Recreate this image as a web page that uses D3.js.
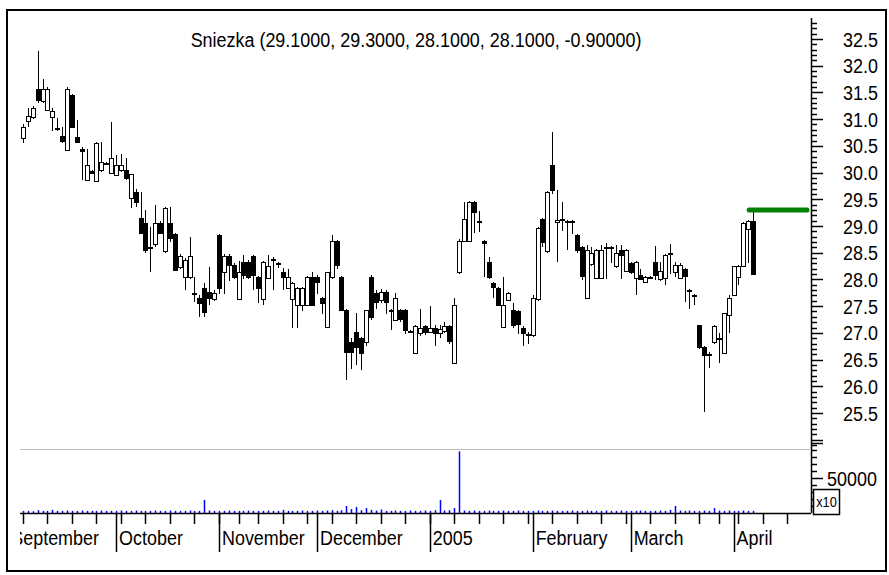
<!DOCTYPE html>
<html>
<head>
<meta charset="utf-8">
<script src="https://cdn.jsdelivr.net/npm/d3@7"></script>
<style>
  body { margin: 0; background: #fff; }
  text { font-family: "Liberation Sans", Arial, sans-serif; fill: #000; }
</style>
</head>
<body>
<div id="chart"></div>
<script>
// daily quotes, first session 6 Sept 2004, last 7 Apr 2005
const opens = [30.65,30.95,31.03,31.57,31.35,31.18,31.04,30.82,30.68,30.43,
  31.45,30.67,30.45,29.87,30.03,29.84,30.05,30.18,29.98,29.95,
  30.05,30.05,29.53,29.64,29.15,29.05,28.6,28.66,29.05,28.53,
  29.05,28.85,28.24,28.05,28.05,27.75,27.65,27.84,27.77,27.64,
  28.83,28.14,28.44,28.27,27.64,28.33,28.33,28.44,28.05,27.64,
  28.03,28.38,28.3,28.14,27.84,27.64,27.52,27.52,27.52,28.05,
  28.05,27.65,27.11,28.05,28.72,28.05,27.43,26.83,27.02,26.9,
  26.83,28.05,27.75,27.62,27.77,27.42,27.24,27.42,27.43,27.03,
  26.62,27.0,27.12,27.02,27.1,27.0,27.03,27.12,26.45,28.14,
  28.72,28.72,29.45,29.1,28.72,28.33,27.94,27.84,27.11,27.62,
  27.43,27.4,27.1,26.98,26.95,27.65,29.13,28.53,30.14,29.08,
  29.12,29.1,29.1,28.83,28.6,27.65,28.3,28.03,28.03,28.6,
  28.6,28.25,28.55,28.15,28.3,28.03,28.08,27.95,28.05,28.33,
  28.0,28.03,28.48,28.14,28.03,28.2,27.8,27.7,27.15,26.74,
  26.6,26.83,26.9,26.62,27.33,27.7,28.05,28.25,28.95,29.1];
const highs = [30.9,31.2,31.25,32.27,31.75,31.6,31.2,31.03,30.85,31.6,
  31.47,30.98,30.47,30.45,30.05,30.57,30.57,30.2,30.95,30.33,
  30.35,30.27,29.98,29.7,29.64,29.3,28.98,29.4,29.1,29.36,
  29.36,28.87,28.47,28.4,28.8,28.05,27.7,27.94,28.23,27.8,
  28.85,28.47,28.48,28.3,28.34,28.45,28.36,28.46,28.07,28.35,
  28.45,28.42,28.32,28.22,28.2,27.96,27.86,27.86,28.07,28.14,
  28.08,27.68,28.14,28.83,28.74,28.07,27.45,26.9,27.38,26.92,
  27.43,28.08,27.8,27.82,27.8,27.45,27.75,27.45,27.45,27.06,
  27.14,27.45,27.14,27.5,27.15,27.15,27.2,27.15,27.65,28.75,
  29.45,29.47,29.47,29.28,28.74,28.42,27.96,27.86,28.05,27.77,
  27.55,27.42,27.12,27.02,27.7,28.99,29.15,29.66,30.76,29.68,
  29.45,29.12,29.12,28.85,28.62,28.65,28.6,28.57,28.65,28.68,
  28.62,28.65,28.65,28.57,28.33,28.35,28.2,28.07,28.06,28.62,
  28.33,28.48,28.66,28.33,28.3,28.22,27.82,27.72,27.15,26.76,
  26.64,27.15,27.0,27.38,27.7,28.25,28.27,29.07,29.12,29.3];
const lows = [30.55,30.85,31.0,31.3,31.3,31.15,30.77,30.78,30.55,30.42,
  30.86,30.55,29.86,29.86,29.97,29.84,30.02,30.15,29.98,29.93,
  30.02,29.87,29.34,29.35,28.85,28.5,28.14,28.6,28.85,28.5,
  28.7,28.15,28.2,27.8,28.0,27.57,27.3,27.3,27.52,27.6,
  27.72,27.72,27.97,28.0,27.62,28.0,28.0,27.8,27.55,27.53,
  28.0,27.8,28.22,27.8,27.82,27.1,27.1,27.4,27.5,27.5,
  27.73,27.35,27.11,28.0,28.2,27.4,26.12,26.33,26.4,26.3,
  26.75,27.25,27.45,27.55,27.35,27.06,27.22,27.2,26.98,27.0,
  26.6,26.95,26.96,27.0,26.75,26.9,27.0,26.8,26.45,28.1,
  28.7,28.7,28.86,28.88,28.05,28.0,27.65,27.5,27.1,27.6,
  27.1,26.98,26.75,26.8,26.93,27.6,28.6,28.5,29.6,28.33,
  28.9,28.55,28.85,28.5,27.98,27.63,28.25,28.0,28.0,28.0,
  28.3,28.22,28.0,28.13,28.1,27.7,27.98,27.93,28.0,27.98,
  27.97,27.9,28.1,28.05,28.0,27.57,27.44,27.53,26.7,25.52,
  26.34,26.8,26.43,26.6,27.0,27.7,27.9,28.23,28.3,28.1];
const closes = [30.85,31.05,31.2,31.36,31.57,31.57,31.16,30.83,30.58,31.57,
  30.86,30.58,30.42,30.15,29.99,30.55,30.2,30.18,30.27,30.14,
  30.15,29.9,29.98,29.45,28.87,28.55,28.6,29.06,28.87,29.33,
  28.76,28.18,28.44,28.36,28.44,27.75,27.56,27.39,27.65,27.75,
  27.84,28.44,28.27,28.05,28.14,28.08,28.05,28.08,27.84,28.33,
  28.25,28.38,28.28,28.05,28.05,27.94,27.84,27.84,28.05,27.52,
  27.96,27.56,28.14,28.72,28.27,27.43,26.64,26.64,26.74,26.62,
  27.43,27.3,27.58,27.77,27.58,27.42,27.65,27.26,27.05,27.03,
  27.13,27.1,27.0,27.1,27.0,27.08,27.12,26.83,27.53,28.72,
  29.13,29.45,29.26,29.1,28.68,28.05,27.86,27.52,27.52,27.75,
  27.15,27.15,27.0,26.96,27.65,28.97,28.7,29.64,29.68,29.12,
  29.14,29.1,29.1,28.55,28.05,28.55,28.5,28.55,28.55,28.6,
  28.6,28.5,28.45,28.55,28.14,28.33,28.0,28.05,28.05,28.08,
  28.15,28.46,28.5,28.27,28.27,28.06,27.8,27.7,26.74,26.59,
  26.6,27.13,26.9,27.37,27.65,28.25,28.25,29.05,29.1,28.1];
const volumes = [3000,3000,2500,4000,3000,3000,4500,3000,3000,3500,
  3000,3000,3500,3000,3000,3000,3500,3000,3000,3000,
  3500,3000,3000,3500,3000,3000,3000,3500,3000,3000,
  3500,3000,3000,3000,3500,3000,3000,18500,3500,3000,
  3000,3000,3500,3000,3000,3000,3500,3000,3000,3000,
  3500,3000,3000,4500,3000,3000,3000,3500,3000,3000,
  3500,3000,3500,4000,3000,4000,10000,5500,8500,4000,
  7000,4500,3500,5000,3000,3000,3500,3000,3000,3500,
  3000,3000,3500,3000,4000,18500,3500,4000,7000,88000,
  3500,3000,3500,3000,3000,3500,3000,3000,3500,3000,
  3000,3500,3000,3000,3000,3500,3000,3000,3500,3000,
  3000,3000,3500,3000,3000,3500,3000,3000,3000,3500,
  3000,3000,3500,3000,3000,3000,3500,3000,3000,3000,
  3500,3000,4500,10000,3500,3000,3500,3000,3000,3500,
  3000,7000,3500,3000,3500,3000,3000,3500,3000,3000];

const monthNames = ["January","February","March","April","May","June","July",
  "August","September","October","November","December"];
const holidays = ["2004-11-01", "2004-11-11", "2005-03-25", "2005-03-28"];
const titleText = "Sniezka (29.1000, 29.3000, 28.1000, 28.1000, -0.90000)";

const width = 889, height = 575;
const narrow = 0.855; // the chart uses a narrow face, squeeze the text
const fmt = d3.timeFormat("%Y-%m-%d");

// trading calendar (from 1 Sept so the September label has a position)
const days = d3.timeDay.range(new Date(2004, 8, 1), new Date(2005, 3, 25))
  .filter(d => d.getDay() % 6 !== 0 && !holidays.includes(fmt(d)));
const first = 3; // 6 Sept 2004

const quotes = opens.map((o, i) => ({
  i: i, open: o, high: highs[i], low: lows[i], close: closes[i], vol: volumes[i]
}));

const left = 20, right = 811;
const x = d3.scaleLinear().domain([-0.6, 160.8]).range([left, right]);
const y = d3.scaleLinear().domain([25.5, 32.5]).range([413, 39]);
const yv = d3.scaleLinear().domain([0, 50000]).range([513, 478]);

const svg = d3.select("#chart").append("svg")
  .attr("width", width)
  .attr("height", height);

function label(g, tx, ty, txt, anchor, size) {
  return g.append("text")
    .attr("transform", `translate(${tx},${ty}) scale(${narrow},1)`)
    .attr("text-anchor", anchor || "start")
    .attr("font-size", size || 21)
    .text(txt);
}

svg.append("rect")
  .attr("x", 7).attr("y", 10)
  .attr("width", 879).attr("height", 561)
  .attr("fill", "none").attr("stroke", "#000").attr("stroke-width", 2);

svg.append("clipPath").attr("id", "plotclip")
  .append("rect").attr("x", left).attr("y", 12).attr("width", right - left).attr("height", 556);

label(svg, 416, 47, titleText, "middle");

// price axis
const pax = svg.append("g");
pax.append("line")
  .attr("x1", right + 0.5).attr("x2", right + 0.5)
  .attr("y1", 18).attr("y2", 513)
  .attr("stroke", "#000").attr("stroke-width", 1.5);
const pTicks = d3.range(249, 329).map(v => v / 10);
pax.selectAll(".pt").data(pTicks).enter().append("line")
  .attr("x1", right)
  .attr("x2", d => Math.round(d * 10) % 5 === 0 ? right + 12 : right + 6)
  .attr("y1", d => Math.round(y(d)) + 0.5)
  .attr("y2", d => Math.round(y(d)) + 0.5)
  .attr("stroke", "#000").attr("stroke-width", 1.5);
d3.range(51, 66).map(v => v / 2).forEach(v => {
  label(pax, 878, y(v) + 7.5, v.toFixed(1), "end");
});

// volume panel
svg.append("line")
  .attr("x1", left).attr("x2", right)
  .attr("y1", 449.5).attr("y2", 449.5)
  .attr("stroke", "#c0c0c0");
const vTicks = d3.range(10000, 100001, 10000);
svg.selectAll(".vt").data(vTicks).enter().append("line")
  .attr("x1", right)
  .attr("x2", d => d % 50000 === 0 ? right + 12 : right + 6)
  .attr("y1", d => Math.round(yv(d)) + 0.5)
  .attr("y2", d => Math.round(yv(d)) + 0.5)
  .attr("stroke", "#000").attr("stroke-width", 1.5);
label(svg, 877, yv(50000) + 8, "50000", "end");
svg.append("rect")
  .attr("x", 813.5).attr("y", 489.5).attr("width", 26).attr("height", 25)
  .attr("fill", "#fff").attr("stroke", "#000").attr("stroke-width", 1.5);
label(svg, 826.5, 507, "x10", "middle", 15);

svg.append("g").selectAll("rect").data(quotes).enter().append("rect")
  .attr("x", d => Math.round(x(d.i)) - 0.25)
  .attr("y", d => yv(d.vol))
  .attr("width", 1.5)
  .attr("height", d => 513 - yv(d.vol))
  .attr("fill", "#0000ff");

// date axis
const dax = svg.append("g");
dax.append("line")
  .attr("x1", left).attr("x2", right)
  .attr("y1", 513.5).attr("y2", 513.5)
  .attr("stroke", "#000").attr("stroke-width", 1.5);

const weekTicks = [], monthTicks = [];
days.forEach((d, k) => {
  const prev = days[k - 1];
  if (!prev || d.getDay() <= prev.getDay()) weekTicks.push(k - first);
  if (!prev || d.getMonth() !== prev.getMonth()) monthTicks.push({ i: k - first, d: d });
});
dax.selectAll(".wt").data(weekTicks.filter(i => x(i) >= left && x(i) <= right)).enter().append("line")
  .attr("x1", i => Math.round(x(i)) + 0.5).attr("x2", i => Math.round(x(i)) + 0.5)
  .attr("y1", 513).attr("y2", 524)
  .attr("stroke", "#000").attr("stroke-width", 1.5);
dax.selectAll(".mt").data(monthTicks.filter(m => x(m.i) >= left && x(m.i) <= right)).enter().append("line")
  .attr("x1", m => Math.round(x(m.i)) + 0.5).attr("x2", m => Math.round(x(m.i)) + 0.5)
  .attr("y1", 513).attr("y2", 552)
  .attr("stroke", "#000").attr("stroke-width", 1.5);
const mlab = dax.append("g").attr("clip-path", "url(#plotclip)");
monthTicks.forEach(m => {
  label(mlab, x(m.i) + 3, 545, m.d.getMonth() === 0 ? m.d.getFullYear() : monthNames[m.d.getMonth()]);
});

// candles, drawn on whole pixels so the outlines stay sharp
const cg = svg.append("g");
cg.selectAll(".wick").data(quotes).enter().append("line")
  .attr("x1", d => Math.round(x(d.i)) + 0.5)
  .attr("x2", d => Math.round(x(d.i)) + 0.5)
  .attr("y1", d => Math.round(y(d.high)))
  .attr("y2", d => Math.round(y(d.low)))
  .attr("stroke", "#000").attr("stroke-width", 1);
cg.selectAll(".body").data(quotes).enter().append("rect")
  .attr("x", d => Math.round(x(d.i)) - 1.5)
  .attr("y", d => Math.round(y(Math.max(d.open, d.close))) + 0.5)
  .attr("width", 4)
  .attr("height", d => Math.max(1, Math.round(Math.abs(y(d.open) - y(d.close)))))
  .attr("fill", d => d.close < d.open ? "#000" : "#fff")
  .attr("stroke", "#000").attr("stroke-width", 1);

// last high marker
const last = quotes[quotes.length - 1];
svg.append("line")
  .attr("x1", x(last.i) - 4).attr("x2", right - 4)
  .attr("y1", y(last.high)).attr("y2", y(last.high))
  .attr("stroke", "#008000").attr("stroke-width", 5)
  .attr("stroke-linecap", "round");
</script>
</body>
</html>
